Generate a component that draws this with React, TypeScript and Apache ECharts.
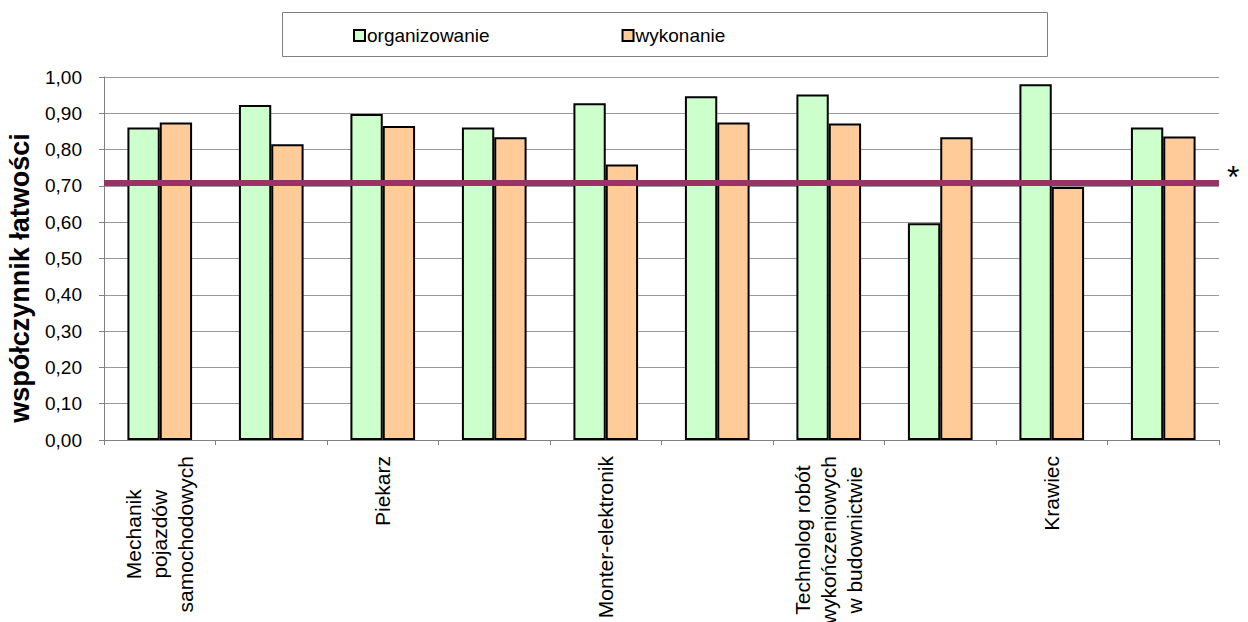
import React, { useEffect, useRef } from 'react';
import * as echarts from 'echarts';

const FONT = '"Liberation Sans", Arial, Helvetica, sans-serif';

const categories = [
  'Mechanik\npojazdów\nsamochodowych',
  '',
  'Piekarz',
  '',
  'Monter-elektronik',
  '',
  'Technolog robót\nwykończeniowych\nw budownictwie',
  '',
  'Krawiec',
  '',
];
const seriesNames = ['organizowanie', 'wykonanie'];
const organizowanie = [0.861, 0.923, 0.898, 0.861, 0.928, 0.947, 0.952, 0.597, 0.98, 0.861];
const wykonanie = [0.875, 0.815, 0.865, 0.834, 0.759, 0.875, 0.872, 0.834, 0.697, 0.836];
const threshold = 0.714;
const thresholdLabel = '*';
const yAxisName = 'współczynnik łatwości';

const fmt = (v: number) => v.toFixed(2).replace('.', ',');

export default function App() {
  const ref = useRef<HTMLDivElement>(null);
  useEffect(() => {
    document.body.style.margin = '0';
    const chart = echarts.init(ref.current!, null, { renderer: 'svg' });
    chart.setOption({
      animation: false,
      backgroundColor: '#ffffff',
      textStyle: { fontFamily: FONT, color: '#000' },
      graphic: [
        {
          type: 'rect',
          left: 282,
          top: 12,
          z: 0,
          shape: { width: 765, height: 44 },
          style: { fill: '#ffffff', stroke: '#808080', lineWidth: 1 },
        },
        {
          type: 'text',
          x: 20,
          y: 278,
          rotation: Math.PI / 2,
          z: 10,
          style: {
            text: yAxisName,
            fontFamily: FONT,
            fontSize: 27,
            fontWeight: 'bold',
            fill: '#000',
            align: 'center',
            verticalAlign: 'middle',
          },
        },
      ],
      legend: {
        data: seriesNames,
        left: 353,
        top: 26,
        padding: 0,
        icon: 'rect',
        itemWidth: 11,
        itemHeight: 11,
        itemGap: 132,
        z: 10,
        itemStyle: { borderColor: '#000', borderWidth: 2 },
        textStyle: { fontFamily: FONT, fontSize: 19, color: '#000', padding: [0, 0, 0, -3] },
      },
      grid: { left: 104, right: 29, top: 77, bottom: 182, containLabel: false, outerBoundsMode: 'none' },
      xAxis: {
        type: 'category',
        data: categories,
        axisLine: { show: true, lineStyle: { color: '#808080', width: 1 } },
        axisTick: { show: true, interval: 0, length: 5, lineStyle: { color: '#808080' } },
        splitLine: { show: false },
        axisLabel: {
          interval: 1,
          rotate: 90,
          margin: 16,
          color: '#000',
          fontFamily: FONT,
          fontSize: 21,
          formatter: (v: string) =>
            v ? v.split('\n').map((l) => `{c|${l}}`).join('\n') : '',
          rich: {
            c: { align: 'center', fontFamily: FONT, fontSize: 21, lineHeight: 26, color: '#000' },
          },
        },
      },
      yAxis: {
        type: 'value',
        min: 0,
        max: 1,
        interval: 0.1,
        axisLine: { show: true, lineStyle: { color: '#808080', width: 1 } },
        axisTick: { show: true, length: 5, lineStyle: { color: '#808080' } },
        splitLine: { show: true, lineStyle: { color: '#999999', width: 1 } },
        axisLabel: {
          margin: 22,
          color: '#000',
          fontFamily: FONT,
          fontSize: 19,
          formatter: (v: number) => fmt(v),
        },
      },
      series: [
        {
          name: seriesNames[0],
          type: 'bar',
          data: organizowanie,
          barGap: '0%',
          barCategoryGap: '42%',
          itemStyle: { color: '#CCFFCC', borderColor: '#000', borderWidth: 2 },
        },
        {
          name: seriesNames[1],
          type: 'bar',
          data: wykonanie,
          barGap: '0%',
          barCategoryGap: '42%',
          itemStyle: { color: '#FFCC99', borderColor: '#000', borderWidth: 2 },
          markLine: {
            silent: true,
            z: 10,
            symbol: ['none', 'none'],
            lineStyle: { color: '#993366', width: 6, type: 'solid' },
            data: [{ yAxis: threshold }],
            label: {
              show: true,
              position: 'end',
              formatter: thresholdLabel,
              fontFamily: FONT,
              fontSize: 32,
              color: '#000',
              distance: 8,
              verticalAlign: 'bottom',
              lineHeight: 10,
            },
          },
        },
      ],
    });
    return () => chart.dispose();
  }, []);
  return (
    <div
      ref={ref}
      style={{ position: 'absolute', left: 0, top: 0, width: 1248, height: 622, background: '#fff' }}
    />
  );
}
